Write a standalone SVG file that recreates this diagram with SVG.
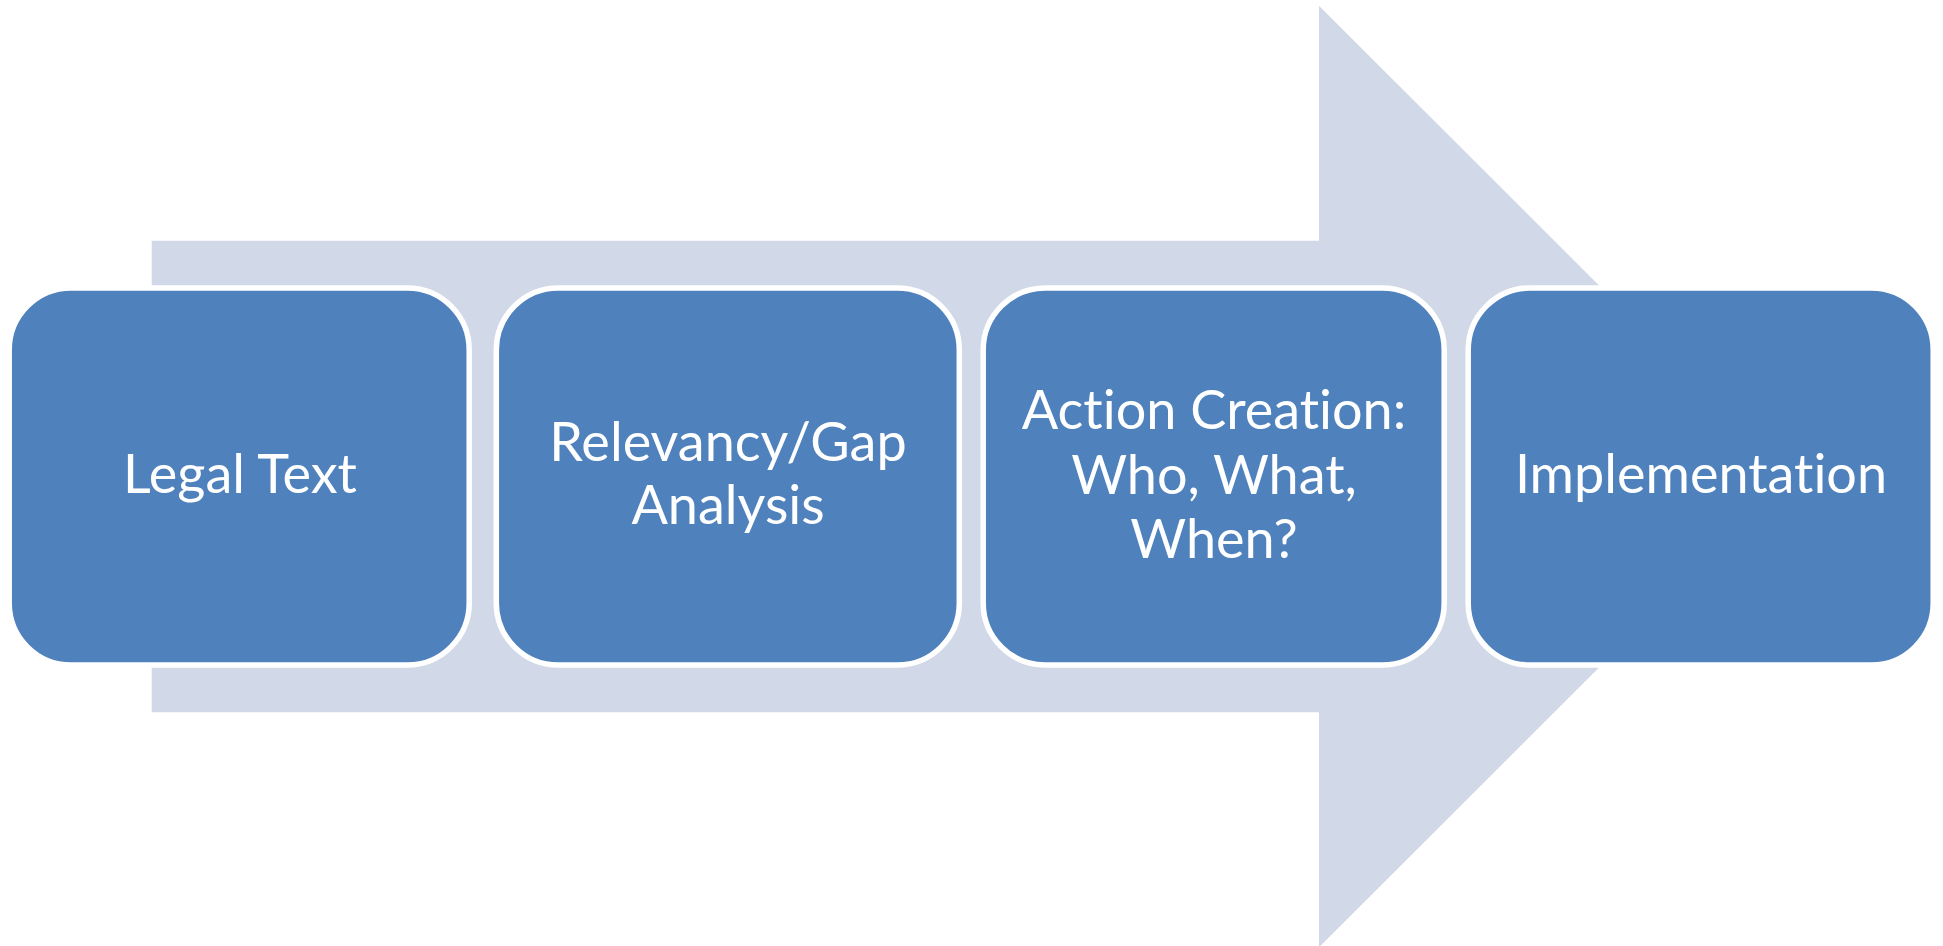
<svg xmlns="http://www.w3.org/2000/svg" width="1943" height="946" viewBox="0 0 1943 946">
<style>
.box{fill:#4F81BD;stroke:#FFFFFF;stroke-width:5.5}
.lbl{font-family:Lato,"Liberation Sans",sans-serif;font-size:54px;fill:#FFFFFF;text-anchor:middle;font-variant-ligatures:none;font-feature-settings:"liga" 0}
</style>
<rect width="1943" height="946" fill="#FFFFFF"/>
<g id="arrow">
<polygon points="151.7,240.7 1319,240.7 1319,5.7 1790.3,476.5 1319,947.3 1319,712.3 151.7,712.3" fill="#D1D9E8"/>
</g>
<g id="connectors"></g>
<g id="node1">
<rect class="box" x="9.2" y="288" width="460" height="377" rx="62"/>
<text class="lbl" x="240" y="493">Legal Text</text>
</g>
<g id="node2">
<rect class="box" x="496.3" y="288" width="463" height="377" rx="62"/>
<text class="lbl" x="728" y="460.5">Relevancy/Gap</text>
<text class="lbl" x="728" y="523.5">Analysis</text>
</g>
<g id="node3">
<rect class="box" x="983.2" y="288" width="461" height="377" rx="62"/>
<text class="lbl" x="1214" y="429">Action Creation:</text>
<text class="lbl" x="1214" y="493.5">Who, What,</text>
<text class="lbl" x="1214" y="558">When?</text>
</g>
<g id="node4">
<rect class="box" x="1468.2" y="288" width="465" height="377" rx="62"/>
<text class="lbl" x="1701" y="493">Implementation</text>
</g>
</svg>
